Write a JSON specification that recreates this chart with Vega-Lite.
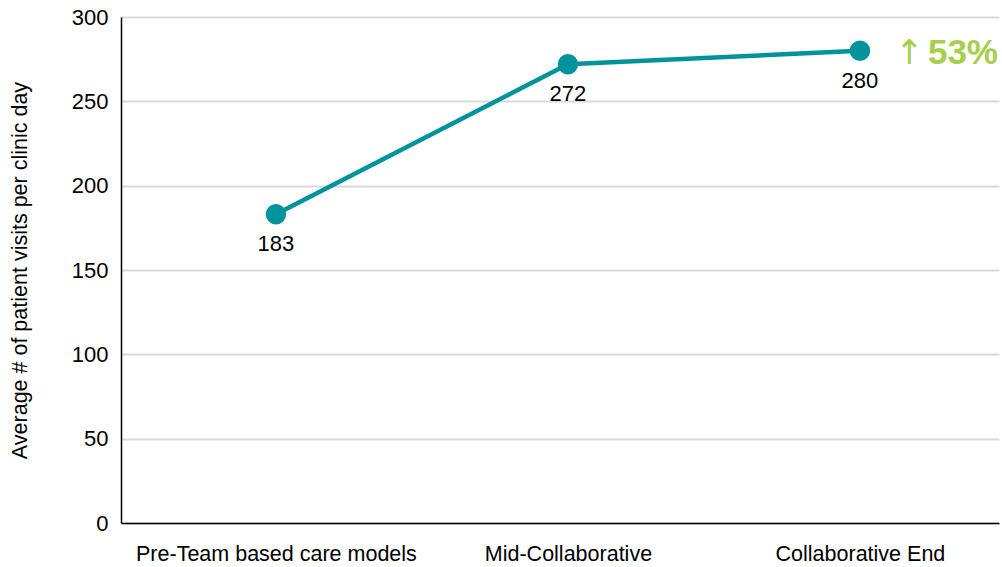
{
  "$schema": "https://vega.github.io/schema/vega-lite/v6.json",
  "width": 878,
  "height": 506,
  "autosize": {"type": "none"},
  "padding": {"left": 121, "top": 17, "right": 3, "bottom": 44},
  "background": "white",
  "config": {
    "font": "Liberation Sans",
    "view": {"stroke": null}
  },
  "data": {
    "values": [
      {"phase": "Pre-Team based care models", "visits": 183, "label": "183"},
      {"phase": "Mid-Collaborative", "visits": 272, "label": "272"},
      {"phase": "Collaborative End", "visits": 280, "label": "280"}
    ]
  },
  "encoding": {
    "x": {
      "field": "phase",
      "type": "nominal",
      "sort": null,
      "scale": {"type": "point", "padding": 0.5034, "align": 0.527},
      "axis": {
        "title": null,
        "labelAngle": 0,
        "labelFontSize": 21.5,
        "labelColor": "#000000",
        "labelPadding": 20,
        "labelLimit": 400,
        "ticks": false,
        "domainColor": "#000000",
        "domainWidth": 1.5,
        "grid": false
      }
    },
    "y": {
      "field": "visits",
      "type": "quantitative",
      "scale": {"domain": [0, 300], "nice": false},
      "axis": {
        "title": "Average # of patient visits per clinic day",
        "titleFontSize": 21.5,
        "titleFontWeight": "normal",
        "titleColor": "#000000",
        "titlePadding": 40,
        "values": [0, 50, 100, 150, 200, 250, 300],
        "labelFontSize": 22,
        "labelColor": "#000000",
        "labelPadding": 13,
        "ticks": false,
        "domainColor": "#000000",
        "domainWidth": 1.5,
        "grid": true,
        "gridColor": "#d9d9d9",
        "gridWidth": 2
      }
    }
  },
  "layer": [
    {"mark": {"type": "line", "color": "#00939b", "strokeWidth": 4.5}},
    {"mark": {"type": "point", "filled": true, "color": "#00939b", "size": 420, "opacity": 1}},
    {"mark": {"type": "text", "baseline": "alphabetic", "dy": 37, "fontSize": 22, "color": "#000000"},
     "encoding": {"text": {"field": "label"}}},
    {"transform": [{"filter": "datum.phase === 'Collaborative End'"}],
     "mark": {"type": "text", "align": "left", "baseline": "middle", "dx": 35, "dy": 3, "font": "DejaVu Sans", "fontSize": 34, "fontWeight": "normal", "color": "#a5cf4c", "text": "↑"},
     "encoding": {}},
    {"transform": [{"filter": "datum.phase === 'Collaborative End'"}],
     "mark": {"type": "text", "align": "left", "baseline": "middle", "dx": 68, "dy": 2, "fontSize": 35, "fontWeight": "bold", "color": "#a5cf4c", "text": "53%"},
     "encoding": {}}
  ]
}
